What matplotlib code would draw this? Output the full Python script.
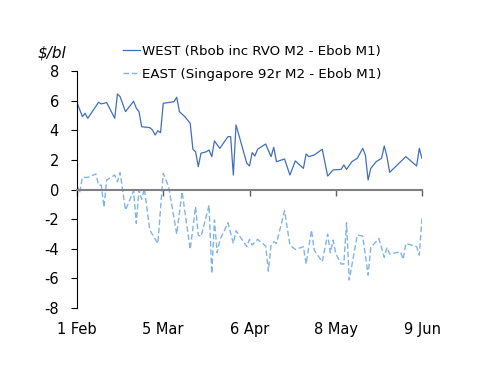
import numpy as np
import matplotlib
matplotlib.use('Agg')
import matplotlib.pyplot as plt

plt.rcParams.update({'font.family': ['DejaVu Sans'], 'font.size': 9.5,
                     'axes.unicode_minus': False})

# days counted from 1 Feb
west_day = [0, 2, 3, 4, 8, 9, 11, 14, 15, 16, 18, 21, 22, 23, 24, 27, 28, 29, 30, 31,
            32, 36, 37, 38, 40, 42, 43, 44, 45, 46, 48, 49, 50, 51, 53, 56, 57, 58, 59,
            63, 64, 65, 66, 67, 70, 72, 73, 74, 77, 79, 81, 84, 85, 86, 88, 91, 93, 95,
            98, 99, 100, 102, 104, 106, 107, 108, 109, 111, 113, 114, 115, 116, 122, 126,
            127, 128]
west_val = [5.87, 4.92, 5.15, 4.81, 5.89, 5.78, 5.87, 4.81, 6.45, 6.27, 5.26, 5.96, 5.49,
            5.26, 4.24, 4.18, 4.02, 3.68, 3.97, 3.84, 5.82, 5.93, 6.23, 5.26, 4.92, 4.47,
            2.72, 2.55, 1.54, 2.45, 2.55, 2.67, 2.22, 3.28, 2.78, 3.57, 3.57, 0.98, 4.36,
            1.77, 1.59, 2.49, 2.26, 2.72, 3.07, 2.22, 2.85, 1.88, 2.06, 0.98, 1.93, 1.43,
            2.40, 2.22, 2.33, 2.72, 0.91, 1.32, 1.36, 1.66, 1.36, 1.88, 2.11, 2.78, 2.33,
            0.64, 1.43, 1.88, 2.11, 2.94, 2.22, 1.16, 2.22, 1.59, 2.78, 2.10]

east_day = [0, 1, 2, 4, 7, 8, 9, 10, 11, 14, 15, 16, 18, 21, 22, 23, 24, 25, 27, 30, 32,
            34, 37, 39, 42, 44, 45, 46, 49, 50, 51, 52, 53, 56, 58, 59, 63, 64, 65, 67,
            70, 71, 72, 73, 74, 77, 79, 81, 84, 85, 87, 88, 91, 93, 94, 95, 96, 98, 99,
            100, 101, 104, 106, 108, 109, 112, 114, 115, 116, 120, 121, 122, 124, 126,
            127, 128]
east_val = [0.30, -0.21, 0.82, 0.82, 1.05, 0.30, 0.30, -1.20, 0.64, 0.98, 0.53, 1.14,
            -1.39, -0.08, -2.28, -0.03, -0.66, 0.08, -2.74, -3.64, 1.09, 0.19, -3.01,
            -0.15, -4.04, -1.16, -3.07, -3.19, -1.05, -5.66, -2.06, -4.27, -3.41, -2.24,
            -3.64, -2.78, -3.86, -3.36, -3.75, -3.36, -3.82, -5.51, -3.75, -3.53, -3.64,
            -1.43, -3.75, -4.04, -3.86, -5.03, -2.74, -4.09, -4.88, -3.01, -4.27, -3.41,
            -4.31, -5.03, -5.03, -2.24, -6.11, -3.07, -3.14, -5.78, -3.91, -3.30, -4.58,
            -3.91, -4.36, -4.20, -4.72, -3.64, -3.75, -3.86, -4.43, -1.90]

tick_days = [0, 32, 64, 96, 128]
tick_labels = ['1 Feb', '5 Mar', '6 Apr', '8 May', '9 Jun']
y_ticks = [8, 6, 4, 2, 0, -2, -4, -6, -8]

WEST_C = '#3F6FBF'
EAST_C = '#80B4E8'

fig = plt.figure(figsize=(5.0, 3.86), dpi=100)
ax = fig.add_axes([0.154, 0.202, 0.69, 0.614])

ax.plot(west_day, west_val, color=WEST_C, lw=0.9, label='WEST (Rbob inc RVO M2 - Ebob M1)')
ax.plot(east_day, east_val, color=EAST_C, lw=1.0, ls=(0, (4, 2)),
        label='EAST (Singapore 92r M2 - Ebob M1)')

ax.set_xlim(0, 128)
ax.set_ylim(-8, 8)
ax.set_yticks(y_ticks)
ax.spines['top'].set_visible(False)
ax.spines['right'].set_visible(False)
ax.spines['left'].set_color('black')
ax.spines['left'].set_linewidth(0.8)
ax.spines['bottom'].set_position(('data', 0))
ax.spines['bottom'].set_color('#808080')
ax.spines['bottom'].set_linewidth(1.5)
ax.set_xticks(tick_days)
ax.tick_params(axis='x', labelbottom=False, direction='out', length=4, width=1, color='#606060')
ax.tick_params(axis='y', direction='out', length=4, width=0.8, labelsize=10.5, pad=9)

sec = ax.secondary_xaxis(0)
sec.set_xticks(tick_days, tick_labels)
sec.tick_params(length=0, pad=10, labelsize=10.5)
sec.spines['bottom'].set_visible(False)

fig.text(0.076, 0.862, '$/bl', fontsize=11, style='italic', ha='left', va='center')

fig.legend(loc='upper left', bbox_to_anchor=(0.222, 0.915), frameon=False,
           handlelength=1.25, handletextpad=0.15, labelspacing=0.75, fontsize=9.6)

fig.savefig('out.png', dpi=100)
